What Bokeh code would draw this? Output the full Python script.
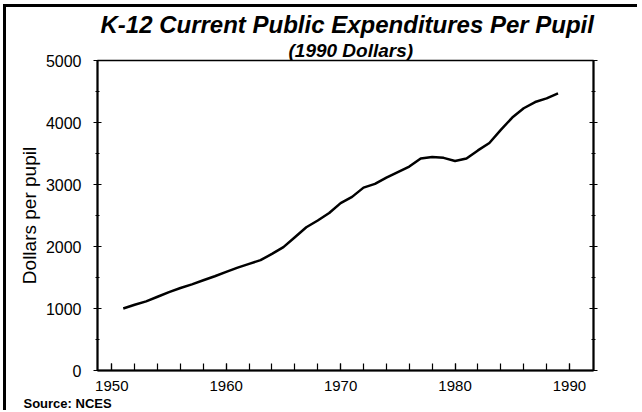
from bokeh.plotting import figure
from bokeh.models import FixedTicker, LinearAxis, Title, Range1d
from bokeh.layouts import column
from bokeh.embed import file_html
from bokeh.resources import INLINE

# ---- data ----
years = [1951, 1952, 1953, 1954, 1955, 1956, 1957, 1958, 1959, 1960,
         1961, 1962, 1963, 1964, 1965, 1966, 1967, 1968, 1969, 1970,
         1971, 1972, 1973, 1974, 1975, 1976, 1977, 1978, 1979, 1980,
         1981, 1982, 1983, 1984, 1985, 1986, 1987, 1988, 1989]
dollars_per_pupil = [1000, 1060, 1115, 1190, 1265, 1330, 1390, 1455, 1520, 1590,
                     1660, 1720, 1780, 1880, 1990, 2150, 2310, 2420, 2540, 2700,
                     2800, 2950, 3010, 3110, 3200, 3290, 3420, 3445, 3430, 3380,
                     3420, 3550, 3670, 3880, 4080, 4230, 4330, 4390, 4470]

x_major_ticks = [1950, 1960, 1970, 1980, 1990]
x_minor_ticks = [1950, 1952, 1954, 1956, 1958, 1960, 1962, 1964, 1966, 1968, 1970,
                 1972, 1974, 1976, 1978, 1980, 1982, 1984, 1986, 1988, 1990]
y_major_ticks = [0, 1000, 2000, 3000, 4000, 5000]
y_minor_ticks = [500, 1500, 2500, 3500, 4500]

title_text = "K-12 Current Public Expenditures Per Pupil"
subtitle_text = "(1990 Dollars)"
y_label = "Dollars per pupil"
source_text = "Source: NCES"

FONT = "Liberation Sans"

p = figure(frame_width=496, frame_height=310,
           x_range=Range1d(1948.75, 1992.1), y_range=Range1d(0, 5000),
           output_backend="svg", toolbar_location=None,
           min_border_left=91, min_border_right=44,
           min_border_top=53, min_border_bottom=0,
           background_fill_color="white", border_fill_color="white")

p.xgrid.visible = False
p.ygrid.visible = False
p.outline_line_color = "black"
p.outline_line_width = 1.5

p.line(years, dollars_per_pupil, line_color="black", line_width=2.5)

# bottom axis
xa = p.xaxis[0]
xa.ticker = FixedTicker(ticks=x_major_ticks, minor_ticks=x_minor_ticks)
xa.axis_line_color = "black"
xa.axis_line_width = 2
xa.major_tick_in = 7
xa.major_tick_out = 0
xa.minor_tick_in = 7
xa.minor_tick_out = 0
xa.major_tick_line_width = 1.2
xa.minor_tick_line_width = 1.2
xa.major_label_text_font = FONT
xa.major_label_text_font_size = "15px"
xa.major_label_text_color = "black"
xa.major_label_standoff = 10

# left axis
ya = p.yaxis[0]
ya.ticker = FixedTicker(ticks=y_major_ticks, minor_ticks=y_minor_ticks)
ya.axis_line_color = "black"
ya.axis_line_width = 2
ya.major_tick_in = 4
ya.major_tick_out = 4
ya.minor_tick_in = 2
ya.minor_tick_out = 2
ya.major_tick_line_width = 1.2
ya.minor_tick_line_width = 1.2
ya.major_label_text_font = FONT
ya.major_label_text_font_size = "16px"
ya.major_label_text_color = "black"
ya.major_label_standoff = 12
ya.axis_label = y_label
ya.axis_label_text_font = FONT
ya.axis_label_text_font_size = "19px"
ya.axis_label_text_font_style = "normal"
ya.axis_label_text_color = "black"
ya.axis_label_standoff = 3

# right axis (ticks only)
ra = LinearAxis(ticker=FixedTicker(ticks=y_major_ticks, minor_ticks=y_minor_ticks))
ra.axis_line_color = "black"
ra.axis_line_width = 2
ra.major_tick_in = 4
ra.major_tick_out = 4
ra.minor_tick_in = 2
ra.minor_tick_out = 2
ra.major_tick_line_width = 1.2
ra.minor_tick_line_width = 1.2
ra.major_label_overrides = {v: "" for v in y_major_ticks}
p.add_layout(ra, "right")

# titles (subtitle nearest the plot)
p.add_layout(Title(text=subtitle_text, text_font=FONT, text_font_size="19px",
                   text_font_style="bold italic", align="left",
                   text_color="black", standoff=0, offset=191,
                   text_line_height=0.7), "above")
p.add_layout(Title(text=title_text, text_font=FONT, text_font_size="24px",
                   text_font_style="bold italic", align="left",
                   text_color="black", standoff=0, offset=3), "above")

# source note under the x axis
p.add_layout(Title(text=source_text, text_font=FONT, text_font_size="13px",
                   text_font_style="bold", align="left", text_color="black",
                   standoff=0, offset=-74), "below")

layout = column(p, styles={"border-left": "3px solid black",
                           "border-top": "3px solid black",
                           "margin-left": "3px", "margin-top": "4px"})

open("out.html", "w").write(file_html(layout, INLINE))
